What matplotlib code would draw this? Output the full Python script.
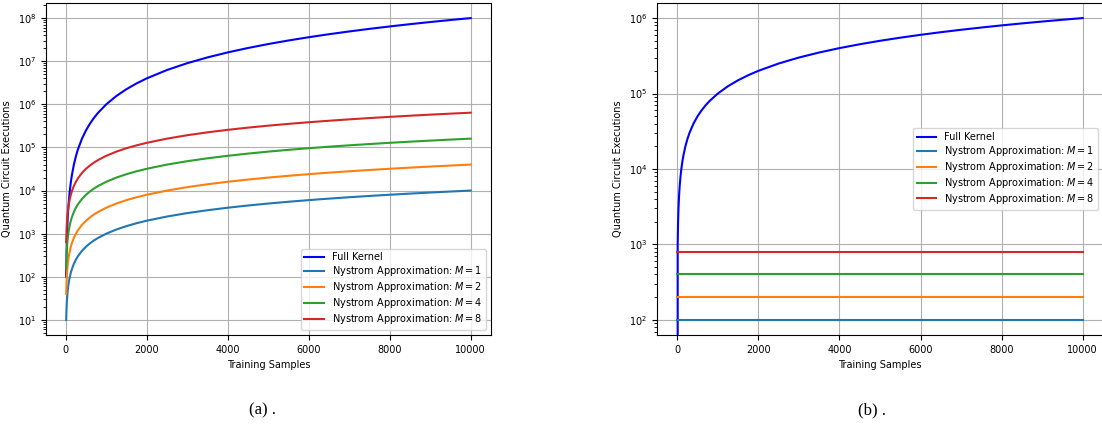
import matplotlib
matplotlib.use("Agg")
import matplotlib.pyplot as plt
from matplotlib.ticker import LogLocator, NullFormatter

# (a) training samples and executions for each method
samples_a = [10, 20, 30, 40, 50, 60, 80, 100, 125, 150, 200, 250, 300, 400,
             500, 600, 700, 800, 1000, 1250, 1500, 1750, 2000, 2500, 3000,
             3500, 4000, 4500, 5000, 5500, 6000, 6500, 7000, 7500, 8000,
             8500, 9000, 9500, 10000]
full_a = [100, 400, 900, 1600, 2500, 3600, 6400, 1e4, 15625, 22500, 4e4,
          62500, 9e4, 1.6e5, 2.5e5, 3.6e5, 4.9e5, 6.4e5, 1e6, 1.5625e6,
          2.25e6, 3.0625e6, 4e6, 6.25e6, 9e6, 1.225e7, 1.6e7, 2.025e7, 2.5e7,
          3.025e7, 3.6e7, 4.225e7, 4.9e7, 5.625e7, 6.4e7, 7.225e7, 8.1e7,
          9.025e7, 1e8]
nys_a = {
    1: [10, 20, 30, 40, 50, 60, 80, 100, 125, 150, 200, 250, 300, 400, 500,
        600, 700, 800, 1000, 1250, 1500, 1750, 2000, 2500, 3000, 3500, 4000,
        4500, 5000, 5500, 6000, 6500, 7000, 7500, 8000, 8500, 9000, 9500,
        10000],
    2: [40, 80, 120, 160, 200, 240, 320, 400, 500, 600, 800, 1000, 1200,
        1600, 2000, 2400, 2800, 3200, 4000, 5000, 6000, 7000, 8000, 10000,
        12000, 14000, 16000, 18000, 20000, 22000, 24000, 26000, 28000, 30000,
        32000, 34000, 36000, 38000, 40000],
    4: [160, 320, 480, 640, 800, 960, 1280, 1600, 2000, 2400, 3200, 4000,
        4800, 6400, 8000, 9600, 11200, 12800, 16000, 20000, 24000, 28000,
        32000, 40000, 48000, 56000, 64000, 72000, 80000, 88000, 96000,
        104000, 112000, 120000, 128000, 136000, 144000, 152000, 160000],
    8: [640, 1280, 1920, 2560, 3200, 3840, 5120, 6400, 8000, 9600, 12800,
        16000, 19200, 25600, 32000, 38400, 44800, 51200, 64000, 80000, 96000,
        112000, 128000, 160000, 192000, 224000, 256000, 288000, 320000,
        352000, 384000, 416000, 448000, 480000, 512000, 544000, 576000,
        608000, 640000],
}

# (b)
samples_b = [0, 10, 20, 30, 40, 50, 60, 80, 100, 125, 150, 200, 250, 300,
             400, 500, 600, 700, 800, 1000, 1250, 1500, 1750, 2000, 2500,
             3000, 3500, 4000, 4500, 5000, 5500, 6000, 6500, 7000, 7500, 8000,
             8500, 9000, 9500, 10000]
full_b = [0, 1000, 2000, 3000, 4000, 5000, 6000, 8000, 10000, 12500, 15000,
          20000, 25000, 30000, 40000, 50000, 60000, 70000, 80000, 100000,
          125000, 150000, 175000, 200000, 250000, 300000, 350000, 400000,
          450000, 500000, 550000, 600000, 650000, 700000, 750000, 800000,
          850000, 900000, 950000, 1000000]
ends_b = [0, 10000]
nys_b = {1: [100, 100], 2: [200, 200], 4: [400, 400], 8: [800, 800]}

colors = {1: "tab:blue", 2: "tab:orange", 4: "tab:green", 8: "tab:red"}

fig = plt.figure(figsize=(11.02, 4.28), dpi=100)
ax1 = fig.add_axes([0.0417, 0.2173, 0.4038, 0.7757])
ax2 = fig.add_axes([0.5962, 0.2173, 0.4047, 0.7757])

ax1.plot(samples_a, full_a, color="blue", lw=1.5, label="Full Kernel")
for m, vals in nys_a.items():
    ax1.plot(samples_a, vals, color=colors[m], lw=1.5,
             label=f"Nystrom Approximation: $M = {m}$")

ax2.plot(samples_b, full_b, color="blue", lw=1.5, label="Full Kernel")
for m, vals in nys_b.items():
    ax2.plot(ends_b, vals, color=colors[m], lw=1.5,
             label=f"Nystrom Approximation: $M = {m}$")

for ax, loc in ((ax1, "lower right"), (ax2, "center right")):
    ax.set_yscale("log")
    ax.yaxis.set_minor_locator(LogLocator(base=10, subs=range(2, 10), numticks=100))
    ax.yaxis.set_minor_formatter(NullFormatter())
    ax.grid(True)
    ax.set_xlabel("Training Samples", fontsize=7)
    ax.set_ylabel("Quantum Circuit Executions", fontsize=7)
    ax.tick_params(labelsize=7)
    ax.legend(loc=loc, fontsize=7, labelspacing=0.2)

fig.text(0.238, 0.042, "(a) .", family="Liberation Serif", fontsize=12,
         ha="center", va="center")
fig.text(0.791, 0.042, "(b) .", family="Liberation Serif", fontsize=12,
         ha="center", va="center")

fig.savefig("out.png", dpi=100)
